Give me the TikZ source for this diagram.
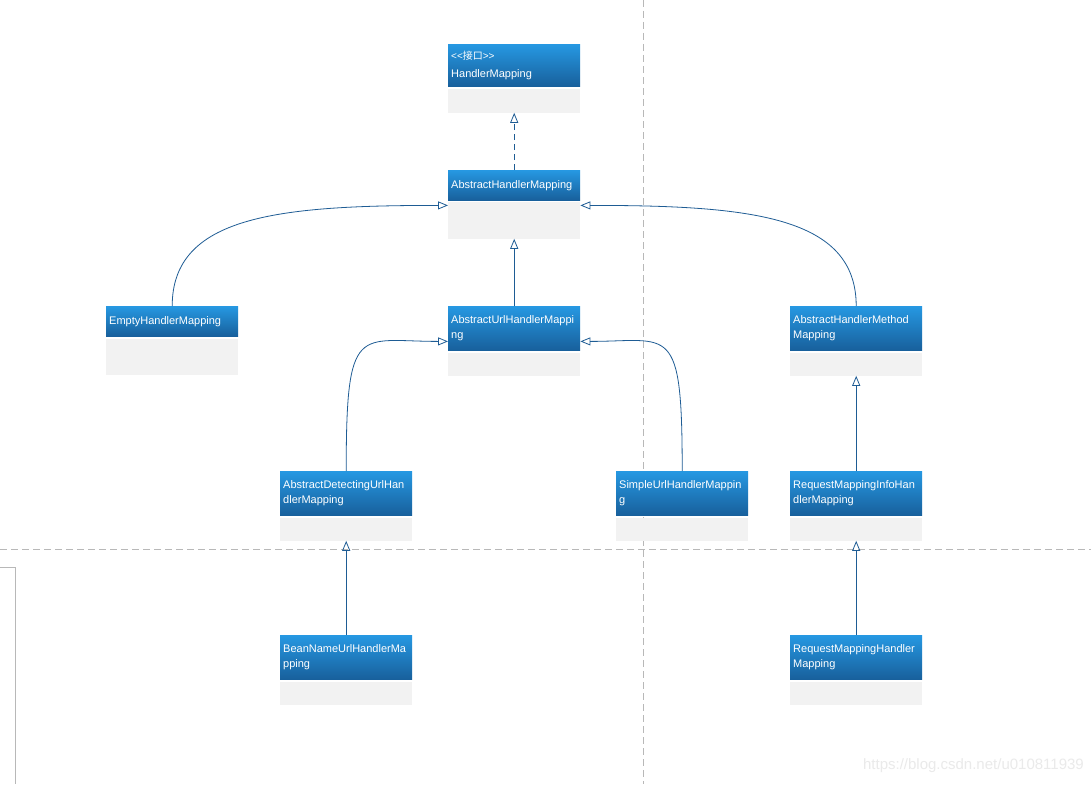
\documentclass[tikz,border=0pt]{standalone}
\usepackage{fontspec}
\setmainfont{Liberation Sans}
\newfontfamily\cjkfont{Noto Sans CJK SC}
\usetikzlibrary{positioning,arrows.meta}
\definecolor{hdtop}{RGB}{38,152,226}
\definecolor{hdbot}{RGB}{24,96,156}
\definecolor{bodygrey}{RGB}{242,242,242}
\definecolor{linkblue}{RGB}{30,92,148}
\definecolor{pagegrey}{RGB}{184,184,184}
\definecolor{markgrey}{RGB}{234,234,234}
\newcommand\clsfont{\fontsize{11}{15}\selectfont}

\begin{document}
\begin{tikzpicture}[x=1pt,y=-1pt,
    cls/.style={rectangle,anchor=north west,text width=126pt,align=left,inner xsep=3pt,inner ysep=0pt,minimum height=#1,top color=hdtop,bottom color=hdbot,text=white,font=\clsfont},
    cls/.default=44pt,
    clsbody/.style={rectangle,fill=bodygrey,minimum width=132pt,minimum height=#1,inner sep=0pt},
    clsbody/.default=23pt,
    inherit/.style={draw=linkblue,line width=0.8pt,-{Triangle[open,length=10pt,width=8pt]}},
    pageline/.style={draw=pagegrey,line width=0.8pt,dash pattern=on 7pt off 4pt}]
  \useasboundingbox[fill=white] (0,0) rectangle (1091,784);
  \draw[pageline] (643,0) -- (643,784);
  \draw[pageline] (0,549) -- (1091,549);
  \draw[draw=pagegrey,line width=0.8pt] (0,567) -- (15,567) -- (15,784);

  \node[cls=42pt] (hm) at (448,44) {{\fontsize{10}{11}\selectfont <\kern0pt<{\cjkfont 接口}>\kern0pt>}\\[3pt]HandlerMapping};
  \node[clsbody=24pt,below=2pt of hm] (hm-b) {};
  \node[cls=30pt] (ahm) at (448,170) {AbstractHandlerMapping};
  \node[clsbody=37pt,below=1pt of ahm] (ahm-b) {};
  \node[cls=30pt] (ehm) at (106,306) {EmptyHandlerMapping};
  \node[clsbody=36pt,below=2pt of ehm] (ehm-b) {};
  \node[cls] (auhm) at (448,306) {AbstractUrlHandlerMappi\\ng};
  \node[clsbody,below=2pt of auhm] (auhm-b) {};
  \node[cls] (ahmm) at (790,306) {AbstractHandlerMethod\\Mapping};
  \node[clsbody,below=2pt of ahmm] (ahmm-b) {};
  \node[cls] (aduhm) at (280,471) {AbstractDetectingUrlHan\\dlerMapping};
  \node[clsbody,below=2pt of aduhm] (aduhm-b) {};
  \node[cls] (suhm) at (616,471) {SimpleUrlHandlerMappin\\g};
  \node[clsbody,below=2pt of suhm] (suhm-b) {};
  \node[cls] (rmihm) at (790,471) {RequestMappingInfoHan\\dlerMapping};
  \node[clsbody,below=2pt of rmihm] (rmihm-b) {};
  \node[cls] (bnuhm) at (280,635) {BeanNameUrlHandlerMa\\pping};
  \node[clsbody,below=2pt of bnuhm] (bnuhm-b) {};
  \node[cls] (rmhm) at (790,635) {RequestMappingHandler\\Mapping};
  \node[clsbody,below=2pt of rmhm] (rmhm-b) {};

  \draw[inherit,dash pattern=on 6pt off 4pt] (ahm.north) -- (hm-b.south);
  \draw[inherit] (ehm.north) .. controls +(0,-90) and +(-170,0) .. ([yshift=-4pt]ahm-b.north west);
  \draw[inherit] (ahmm.north) .. controls +(0,-90) and +(170,0) .. ([yshift=-4pt]ahm-b.north east);
  \draw[inherit] (auhm.north) -- (ahm-b.south);
  \draw[inherit] (aduhm.north) .. controls +(0,-150) and +(-90,0) .. ([yshift=9pt]auhm.south west);
  \draw[inherit] (suhm.north) .. controls +(0,-150) and +(90,0) .. ([yshift=9pt]auhm.south east);
  \draw[inherit] (rmihm.north) -- (ahmm-b.south);
  \draw[inherit] (bnuhm.north) -- (aduhm-b.south);
  \draw[inherit] (rmhm.north) -- (rmihm-b.south);

  \node[anchor=east,text=markgrey,font=\fontsize{15}{15}\selectfont,inner sep=0pt] (mark) at (1084,766) {https://blog.csdn.net/u010811939};
\end{tikzpicture}
\end{document}
